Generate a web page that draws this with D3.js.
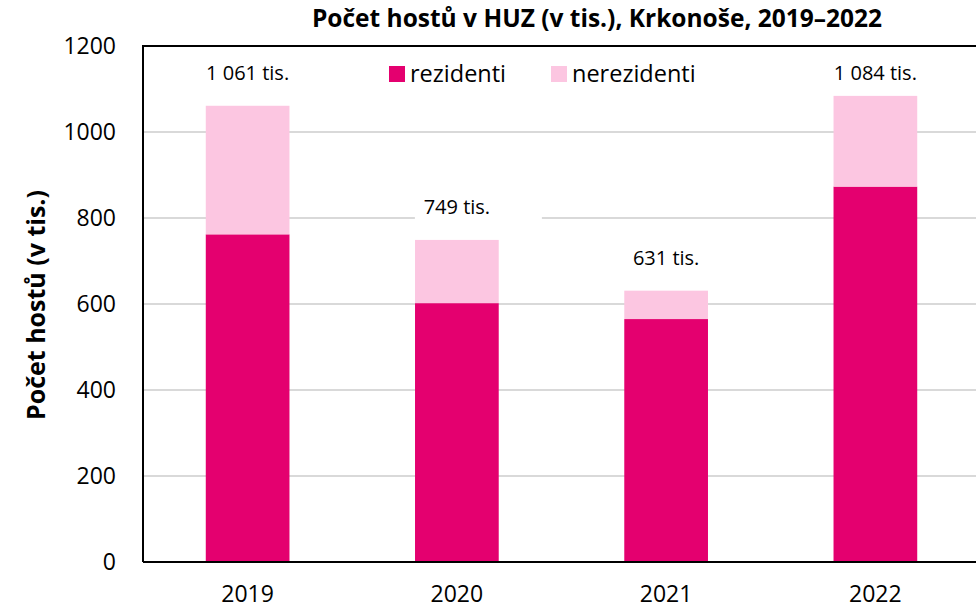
<!DOCTYPE html>
<html><head><meta charset="utf-8">
<script src="https://cdn.jsdelivr.net/npm/d3@7"></script>
<style>body{margin:0;background:#fff}svg{display:block}text{font-family:"Open Sans",sans-serif}</style>
</head><body>
<svg id="c" width="976" height="610"></svg>
<script>
const years = ["2019","2020","2021","2022"];
const rezidenti = [762, 602, 565, 873];
const nerezidenti = [299, 147, 66, 211];
const totals = [1061, 749, 631, 1084];
const totalLabels = ["1 061 tis.", "749 tis.", "631 tis.", "1 084 tis."];
const yTicks = [0, 200, 400, 600, 800, 1000, 1200];
const seriesNames = ["rezidenti", "nerezidenti"];
const colors = ["#E4006F", "#FCC6E1"];

const svg = d3.select("#c");
const m = {l:143, t:46, r:980, b:562};
const x = d3.scaleBand().domain(years).range([m.l, m.r]).paddingInner(0.6).paddingOuter(0.3);
const y = d3.scaleLinear().domain([0, 1200]).range([m.b, m.t]);

// gridlines
svg.append("g").selectAll("line").data(yTicks.filter(d => d > 0 && d < 1200)).join("line")
  .attr("x1", m.l).attr("x2", m.r).attr("y1", d => y(d)).attr("y2", d => y(d))
  .attr("stroke", "#D9D9D9").attr("stroke-width", 2);

// stacked bars
const rows = years.map((yr, i) => ({year: yr, rezidenti: rezidenti[i], nerezidenti: nerezidenti[i]}));
const stack = d3.stack().keys(seriesNames)(rows);
svg.append("g").selectAll("g").data(stack).join("g")
  .attr("fill", (d, i) => colors[i])
  .selectAll("rect").data(d => d).join("rect")
  .attr("x", d => x(d.data.year)).attr("width", x.bandwidth())
  .attr("y", d => y(d[1])).attr("height", d => y(d[0]) - y(d[1]));

// frame
svg.append("path").attr("d", `M${m.l},${m.b}V${m.t}H${m.r}`).attr("fill","none").attr("stroke","#000").attr("stroke-width",2);
svg.append("line").attr("x1", m.l).attr("x2", m.r).attr("y1", m.b).attr("y2", m.b).attr("stroke","#000").attr("stroke-width",2);

// y ticks
svg.append("g").selectAll("text").data(yTicks).join("text")
  .attr("x", 116).attr("y", d => y(d)).attr("dy", "0.36em")
  .attr("text-anchor", "end").attr("font-size", 23).attr("fill", "#000").text(d => d);

// x labels
svg.append("g").selectAll("text").data(years).join("text")
  .attr("x", d => x(d) + x.bandwidth()/2).attr("y", 602)
  .attr("text-anchor", "middle").attr("font-size", 23).attr("fill", "#000").text(d => d);

// total labels
const lbl = svg.append("g");
years.forEach((yr, i) => {
  const cx = x(yr) + x.bandwidth()/2;
  const ty = Math.max(y(totals[i]) - 33, 73);
  if (i === 1) {
    lbl.append("rect").attr("x", cx - 42).attr("y", ty - 16).attr("width", 127).attr("height", 32).attr("fill", "#fff");
  }
  lbl.append("text").attr("x", cx).attr("y", ty).attr("dy", "0.36em")
    .attr("text-anchor", "middle").attr("font-size", 20).attr("fill", "#000").text(totalLabels[i]);
});

// legend
const leg = svg.append("g");
const legX = [389, 551];
seriesNames.forEach((s, i) => {
  leg.append("rect").attr("x", legX[i]).attr("y", 66).attr("width", 16).attr("height", 16).attr("fill", colors[i]);
  leg.append("text").attr("x", legX[i] + 21).attr("y", 74).attr("dy", "0.36em")
    .attr("font-size", 23.5).attr("fill", "#000").text(s);
});

// title
svg.append("text").attr("x", 597).attr("y", 27).attr("text-anchor", "middle")
  .attr("font-size", 24.5).attr("font-weight", "bold").attr("fill", "#000")
  .text("Počet hostů v HUZ (v tis.), Krkonoše, 2019–2022");

// y axis title
svg.append("text").attr("transform", `translate(36,305) rotate(-90)`)
  .attr("dy", "0.36em").attr("text-anchor", "middle")
  .attr("font-size", 25).attr("font-weight", "bold").attr("fill", "#000")
  .text("Počet hostů (v tis.)");
</script>
</body></html>
